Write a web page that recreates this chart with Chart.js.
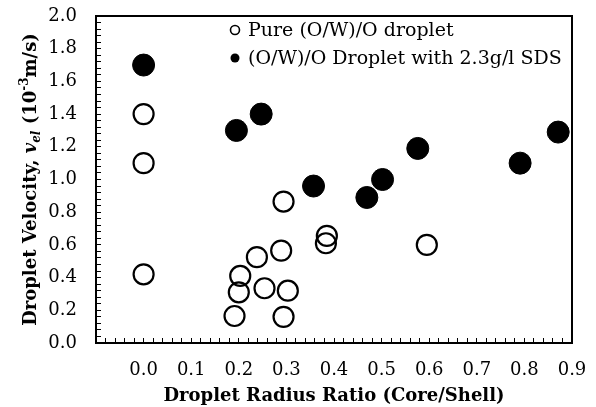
<!DOCTYPE html>
<html>
<head>
<meta charset="utf-8">
<title>Droplet velocity vs radius ratio</title>
<script src="https://cdn.jsdelivr.net/npm/chart.js@4/dist/chart.umd.min.js"></script>
<style>
  html, body { margin: 0; padding: 0; background: #fff; }
  canvas { display: block; }
</style>
</head>
<body>
<canvas id="velocityChart" width="596" height="407"></canvas>
<script>
// Pure (O/W)/O droplet (open circles)
const pureRatio = [0, 0, 0, 0.203, 0.200, 0.191, 0.238, 0.254, 0.289, 0.294, 0.303, 0.294, 0.385, 0.383, 0.595];
const pureVelocity = [1.40, 1.10, 0.42, 0.41, 0.31, 0.165, 0.525, 0.335, 0.565, 0.16, 0.32, 0.865, 0.655, 0.61, 0.60];

// (O/W)/O droplet with 2.3 g/l SDS (filled circles)
const sdsRatio = [0, 0.195, 0.247, 0.357, 0.469, 0.502, 0.576, 0.791, 0.871];
const sdsVelocity = [1.70, 1.30, 1.40, 0.96, 0.89, 1.00, 1.19, 1.10, 1.29];

const seriesNames = ['Pure (O/W)/O droplet', '(O/W)/O Droplet with 2.3g/l SDS'];
const xTitle = 'Droplet Radius Ratio (Core/Shell)';

// axis ranges: major step for labels, minor step for tick marks
const xRange = [-0.1, 0.9];
const yRange = [0, 2.0];
const xMajor = 0.1, xMinor = 0.02;
const yMajor = 0.2, yMinor = 0.04;

const FONT = "'DejaVu Serif', 'Liberation Serif', serif";

function toPoints(xs, ys) {
  return xs.map((x, i) => ({ x: x, y: ys[i] }));
}

// ticks every minor step, labels only on majors
function minorTicks(min, max, step) {
  const ticks = [];
  const n = Math.round((max - min) / step);
  for (let i = 0; i <= n; i++) {
    ticks.push({ value: Math.round((min + i * step) * 1000) / 1000 });
  }
  return ticks;
}

function majorLabel(value, step, hideBelowZero) {
  const k = value / step;
  if (Math.abs(k - Math.round(k)) > 1e-6) return '';
  if (hideBelowZero && value < -1e-9) return '';
  return Math.abs(value).toFixed(1);
}

// box around the plot area
const frame = {
  id: 'frame',
  afterDraw(chart) {
    const { ctx, chartArea: a } = chart;
    ctx.save();
    ctx.strokeStyle = '#000';
    ctx.lineWidth = 2;
    ctx.strokeRect(a.left, a.top, a.right - a.left, a.bottom - a.top);
    ctx.restore();
  }
};

// legend drawn inside the plot, top right
const insideLegend = {
  id: 'insideLegend',
  afterDraw(chart) {
    const { ctx, chartArea: a } = chart;
    ctx.save();
    ctx.font = '19px ' + FONT;
    ctx.textBaseline = 'middle';
    ctx.fillStyle = '#000';
    chart.data.datasets.forEach((ds, i) => {
      const x = a.left + 139;
      const y = a.top + 14 + i * 28;
      ctx.beginPath();
      ctx.arc(x, y, 4.5, 0, Math.PI * 2);
      if (ds.pointBackgroundColor === '#000') {
        ctx.fill();
      } else {
        ctx.lineWidth = 1.6;
        ctx.strokeStyle = '#000';
        ctx.stroke();
      }
      ctx.fillText(ds.label, x + 13, y + 1);
    });
    ctx.restore();
  }
};

// rotated y title with italic subscript and superscript
const yTitle = {
  id: 'yTitle',
  afterDraw(chart) {
    const { ctx, chartArea: a } = chart;
    const parts = [
      { t: 'Droplet Velocity, ', f: 'bold 18px ' + FONT, dy: 0 },
      { t: 'v', f: 'bold italic 18px ' + FONT, dy: 0 },
      { t: 'el', f: 'bold italic 12px ' + FONT, dy: 4 },
      { t: ' (10', f: 'bold 18px ' + FONT, dy: 0 },
      { t: '-3', f: 'bold 12px ' + FONT, dy: -8 },
      { t: 'm/s)', f: 'bold 18px ' + FONT, dy: 0 }
    ];
    ctx.save();
    let total = 0;
    parts.forEach(p => { ctx.font = p.f; p.w = ctx.measureText(p.t).width; total += p.w; });
    ctx.translate(36, (a.top + a.bottom) / 2);
    ctx.rotate(-Math.PI / 2);
    ctx.fillStyle = '#000';
    ctx.textBaseline = 'alphabetic';
    let x = -total / 2;
    parts.forEach(p => {
      ctx.font = p.f;
      ctx.fillText(p.t, x, p.dy);
      x += p.w;
    });
    ctx.restore();
  }
};

function drawChart() {
  const ctx = document.getElementById('velocityChart').getContext('2d');

  const data = {
    datasets: [{
      label: seriesNames[0],
      data: toPoints(pureRatio, pureVelocity),
      pointRadius: 10,
      pointBorderWidth: 2.2,
      pointBorderColor: '#000',
      pointBackgroundColor: 'rgba(0,0,0,0)',
      showLine: false
    }, {
      label: seriesNames[1],
      data: toPoints(sdsRatio, sdsVelocity),
      pointRadius: 11,
      pointBorderWidth: 1,
      pointBorderColor: '#000',
      pointBackgroundColor: '#000',
      showLine: false
    }]
  };

  const tickGrid = {
    drawOnChartArea: false,
    drawTicks: true,
    tickLength: -5,
    color: '#000',
    lineWidth: 1
  };

  // fixed axis sizes, no extra room for overhanging labels
  const fixX = s => { s.height = 64; s.paddingLeft = 0; s.paddingRight = 0; };
  const fixY = s => { s.width = 96; s.paddingTop = 0; s.paddingBottom = 0; };

  const config = {
    type: 'scatter',
    data: data,
    options: {
      responsive: false,
      animation: false,
      devicePixelRatio: 1,
      layout: { padding: { left: 0, top: 16, right: 24, bottom: 0 } },
      plugins: {
        legend: { display: false },
        tooltip: { enabled: false }
      },
      scales: {
        x: {
          type: 'linear',
          min: xRange[0],
          max: xRange[1],
          afterBuildTicks: s => { s.ticks = minorTicks(xRange[0], xRange[1], xMinor); },
          afterFit: fixX,
          grid: tickGrid,
          border: { display: true, color: '#000', width: 2 },
          ticks: {
            autoSkip: false,
            maxRotation: 0,
            padding: 22,
            color: '#000',
            font: { family: FONT, size: 18 },
            callback: v => majorLabel(v, xMajor, true)
          },
          title: {
            display: true,
            text: xTitle,
            color: '#000',
            padding: { top: 0, bottom: 0 },
            font: { family: FONT, size: 18, weight: 'bold' }
          }
        },
        y: {
          type: 'linear',
          min: yRange[0],
          max: yRange[1],
          afterBuildTicks: s => { s.ticks = minorTicks(yRange[0], yRange[1], yMinor); },
          afterFit: fixY,
          grid: tickGrid,
          border: { display: true, color: '#000', width: 2 },
          ticks: {
            autoSkip: false,
            padding: 24,
            color: '#000',
            font: { family: FONT, size: 18 },
            callback: v => majorLabel(v, yMajor, false)
          }
        }
      }
    },
    plugins: [frame, insideLegend, yTitle]
  };

  new Chart(ctx, config);
}

window.onload = drawChart;
</script>
</body>
</html>
